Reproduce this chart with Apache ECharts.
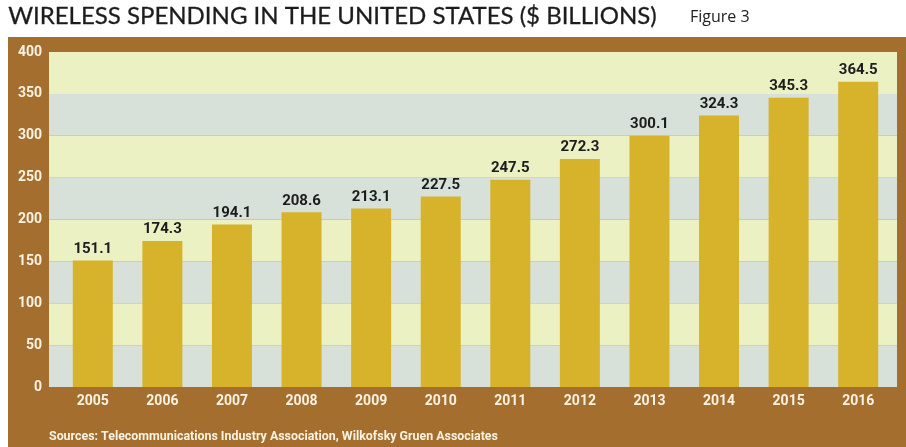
<!DOCTYPE html>
<html>
<head>
<meta charset="utf-8">
<script src="https://cdn.jsdelivr.net/npm/echarts@6/dist/echarts.min.js"></script>
<style>
  html, body { margin: 0; padding: 0; background: #ffffff; }
  #chart { width: 906px; height: 447px; }
</style>
</head>
<body>
<div id="chart"></div>
<script>
// Wireless spending in the United States, $ billions
const years = ['2005', '2006', '2007', '2008', '2009', '2010', '2011', '2012', '2013', '2014', '2015', '2016'];
const spending = [151.1, 174.3, 194.1, 208.6, 213.1, 227.5, 247.5, 272.3, 300.1, 324.3, 345.3, 364.5];
const yTicks = [0, 50, 100, 150, 200, 250, 300, 350, 400];

const labelFont = 'Roboto, "Liberation Sans", sans-serif';
const chart = echarts.init(document.getElementById('chart'), null, { renderer: 'canvas' });

chart.setOption({
  animation: false,
  backgroundColor: '#ffffff',
  graphic: [
    // brown frame behind the plot
    { type: 'rect', z: -10, shape: { x: 8, y: 37, width: 906, height: 420 }, style: { fill: '#a46e2f' } },
    {
      type: 'text', left: 8, top: 4,
      style: { text: 'WIRELESS SPENDING IN THE UNITED STATES ($ BILLIONS)', font: '24px Lato', fill: '#1c1c1c', stroke: '#1c1c1c', lineWidth: 0.3 }
    },
    { type: 'text', left: 690, top: 9, style: { text: 'Figure 3', font: '16px "Open Sans"', fill: '#222222' } },
    {
      type: 'text', left: 49, top: 431,
      style: { text: 'Sources: Telecommunications Industry Association, Wilkofsky Gruen Associates', font: 'bold 12.4px ' + labelFont, fill: '#fbf3e2' }
    }
  ],
  grid: [
    { left: 49, right: 9, top: 52, bottom: 60 },
    { left: 58, right: 13, top: 52, bottom: 60 }
  ],
  xAxis: [
    { type: 'category', gridIndex: 0, data: [''], show: false },
    {
      type: 'category', gridIndex: 1, data: years,
      axisLine: { show: false }, axisTick: { show: false },
      axisLabel: { color: '#fbf3e2', fontFamily: labelFont, fontWeight: 'bold', fontSize: 14, margin: 7 }
    }
  ],
  yAxis: [
    {
      type: 'value', gridIndex: 0, min: yTicks[0], max: yTicks[yTicks.length - 1], interval: 50,
      axisLine: { show: false }, axisTick: { show: false }, splitLine: { show: false },
      splitArea: { show: true, areaStyle: { color: ['#d7e1da', '#ebf1c3'] } },
      axisLabel: { color: '#fbf3e2', fontFamily: labelFont, fontWeight: 'bold', fontSize: 14, margin: 7 }
    },
    {
      type: 'value', gridIndex: 1, min: yTicks[0], max: yTicks[yTicks.length - 1], interval: 50,
      show: false
    }
  ],
  series: [
    {
      type: 'bar', xAxisIndex: 1, yAxisIndex: 1, data: spending, barWidth: 40,
      itemStyle: { color: '#d6b32a' },
      label: {
        show: true, position: 'top', distance: 4, color: '#1c1c1c',
        fontFamily: labelFont, fontWeight: 'bold', fontSize: 15,
        formatter: p => p.value.toFixed(1)
      }
    }
  ]
});
</script>
</body>
</html>
